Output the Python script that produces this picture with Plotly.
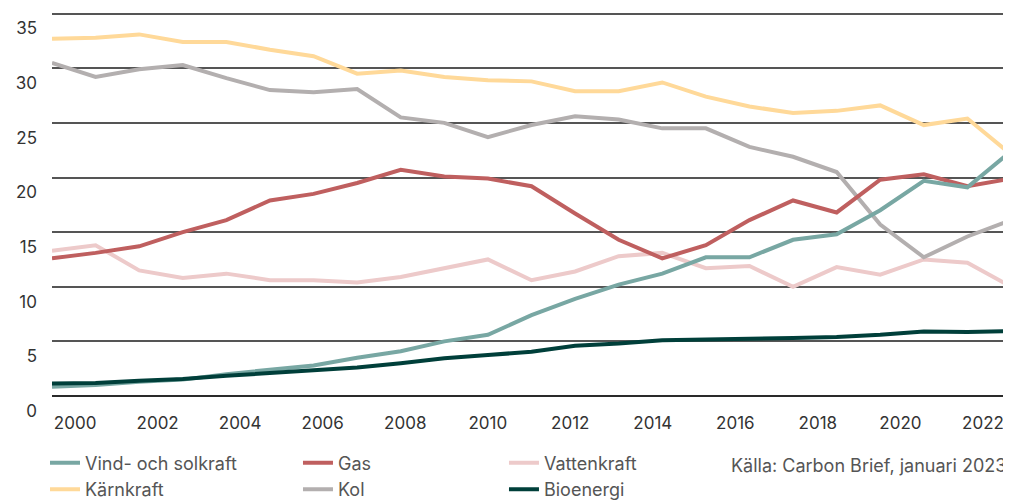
import plotly.graph_objects as go

# elproduktion per kalla, ar 2000-2022
years = list(range(2000, 2023))

vind_sol = [0.85, 1.0, 1.3, 1.5, 2.0, 2.4, 2.8, 3.5, 4.1, 5.0, 5.6, 7.4, 8.9, 10.2, 11.2,
            12.7, 12.7, 14.3, 14.8, 17.0, 19.7, 19.1, 22.4]
gas = [12.6, 13.1, 13.7, 15.0, 16.1, 17.9, 18.5, 19.5, 20.7, 20.1, 19.9, 19.2, 16.7, 14.3, 12.6,
       13.8, 16.1, 17.9, 16.8, 19.8, 20.3, 19.2, 19.9]
vatten = [13.3, 13.8, 11.5, 10.8, 11.2, 10.6, 10.6, 10.4, 10.9, 11.7, 12.5, 10.6, 11.4, 12.8, 13.1,
          11.7, 11.9, 10.0, 11.8, 11.1, 12.5, 12.2, 10.0]
karn = [32.7, 32.8, 33.1, 32.4, 32.4, 31.7, 31.1, 29.5, 29.8, 29.2, 28.9, 28.8, 27.9, 27.9, 28.7,
        27.4, 26.5, 25.9, 26.1, 26.6, 24.8, 25.4, 22.1]
kol = [30.5, 29.2, 29.9, 30.3, 29.1, 28.0, 27.8, 28.1, 25.5, 25.0, 23.7, 24.8, 25.6, 25.3, 24.5,
       24.5, 22.8, 21.9, 20.5, 15.7, 12.7, 14.6, 16.1]
bio = [1.15, 1.2, 1.4, 1.55, 1.85, 2.1, 2.4, 2.6, 3.0, 3.45, 3.75, 4.05, 4.6, 4.8, 5.1,
       5.2, 5.25, 5.3, 5.4, 5.6, 5.9, 5.85, 5.95]

year_ticks = list(range(2000, 2023, 2))
y_ticks = [0, 5, 10, 15, 20, 25, 30, 35]

txt = "#333333"
leg_txt = "#555555"
fnt = "Inter"

# (namn, data, farg, legend, rank) - ritordning nedifran och upp
series = [
    ("Kärnkraft", karn, "#FFD999", "legend", 2),
    ("Vattenkraft", vatten, "#EDCACA", "legend3", 1),
    ("Kol", kol, "#B3AFAF", "legend2", 2),
    ("Gas", gas, "#BF5F5F", "legend2", 1),
    ("Vind- och solkraft", vind_sol, "#78A7A3", "legend", 1),
    ("Bioenergi", bio, "#003F3A", "legend3", 2),
]

fig = go.Figure()
for name, vals, col, leg, rank in series:
    fig.add_trace(go.Scatter(x=years, y=vals, name=name, mode="lines",
                             line=dict(color=col, width=4), legend=leg, legendrank=rank))

# tom trace sa att etikettaxeln ritas
fig.add_trace(go.Scatter(x=[], y=[], xaxis="x2", showlegend=False, hoverinfo="skip"))

# sidan har 8px marginal i body, darfor lite mindre figur
leg_common = dict(orientation="v", yanchor="top", yref="container", y=0.1145, xanchor="left",
                  font=dict(family=fnt, size=18, color=leg_txt), bgcolor="rgba(0,0,0,0)",
                  tracegroupgap=0, itemwidth=30)

fig.update_layout(
    width=1003, height=493,
    margin=dict(l=44, r=0, t=4, b=105),
    plot_bgcolor="white", paper_bgcolor="white",
    font=dict(family=fnt, size=17, color=txt),
    xaxis=dict(range=[2000, 2022], showticklabels=False, showgrid=False, zeroline=False,
               showline=False),
    xaxis2=dict(overlaying="x", anchor="y", side="bottom", range=[1999.44, 2022.68],
                tickvals=year_ticks, showgrid=False, zeroline=False, showline=False,
                ticklabelstandoff=15, tickfont=dict(family=fnt, size=17, color=txt)),
    yaxis=dict(range=[0, 35.15], tickvals=y_ticks, showgrid=True, gridcolor="#555555",
               gridwidth=1.5, zeroline=True, zerolinecolor="#2a2a2a", zerolinewidth=2,
               showline=False, ticklabelposition="outside bottom", ticklabelstandoff=14,
               ticklabelshift=3, tickfont=dict(family=fnt, size=17, color=txt)),
    legend=dict(x=-0.0073, **leg_common),
    legend2=dict(x=0.2565, **leg_common),
    legend3=dict(x=0.4713, **leg_common),
    annotations=[dict(text="Källa: Carbon Brief, januari 2023", xref="paper", yref="paper",
                      x=0.9969, y=-0.1806, xanchor="right", yanchor="middle", showarrow=False,
                      font=dict(family=fnt, size=18, color=leg_txt))],
)

fig.write_html("out.html")
